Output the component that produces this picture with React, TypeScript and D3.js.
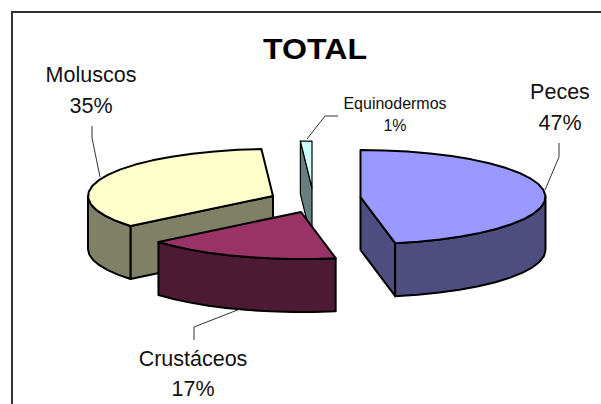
import * as d3 from "d3";

const WIDTH = 601;
const HEIGHT = 404;

const categories = ["Peces", "Crustáceos", "Moluscos", "Equinodermos"];
const values = [47, 17, 35, 1];
const topColors = ["#9999ff", "#993366", "#ffffcc", "#ccffff"];
const sideColors = ["#4d4d80", "#4d1a33", "#808066", "#668080"];

// draw order, back slices first
const drawOrder = [2, 3, 1, 0];

// centre of each exploded slice
const centers: [number, number][] = [
    [360.5, 197],
    [301, 212],
    [273, 196],
    [312, 188],
];
const RX = 185;
const RY = 47;
const DEPTH = 53;
const ARC_STEP = 0.13; // the original outlines are coarse polygons

const labelPos = [
    { x: 560, y: 99, y2: 130, size: 21.5 },
    { x: 193, y: 366, y2: 396, size: 21.5 },
    { x: 91, y: 82, y2: 113, size: 21.5 },
    { x: 395, y: 109, y2: 131, size: 16 },
];
const leaders: [number, number][][] = [
    [[559, 143], [559, 157], [545, 190]],
    [[194, 340], [194, 327], [240, 309]],
    [[92, 126], [92, 138], [100, 177]],
    [[338, 116], [325, 116], [307, 139]],
];

const FONT = "'Liberation Sans', Arial, sans-serif";

export default function App() {
    const arcs = d3.pie<number>().sort(null)(values);
    const line = d3.line();

    const point = (i: number, a: number, dy = 0): [number, number] => [
        centers[i][0] + RX * Math.sin(a),
        centers[i][1] - RY * Math.cos(a) + dy,
    ];

    const arcPoints = (i: number, a0: number, a1: number, dy = 0) => {
        const n = Math.max(1, Math.ceil((a1 - a0) / ARC_STEP));
        return d3.range(n + 1).map((k) => point(i, a0 + ((a1 - a0) * k) / n, dy));
    };

    const slices = drawOrder.map((i) => {
        const { startAngle: a0, endAngle: a1 } = arcs[i];
        const center = centers[i];
        const bottom: [number, number] = [center[0], center[1] + DEPTH];

        // outer wall, front half only
        const w0 = Math.max(a0, Math.PI / 2);
        const w1 = Math.min(a1, (3 * Math.PI) / 2);
        const wall =
            w1 > w0
                ? [...arcPoints(i, w0, w1), ...arcPoints(i, w0, w1, DEPTH).reverse()]
                : null;

        // cut faces that turn toward the viewer
        const faces: [number, number][][] = [];
        if (Math.sin(a0) < -1e-6) faces.push([center, point(i, a0), point(i, a0, DEPTH), bottom]);
        if (Math.sin(a1) > 1e-6) faces.push([center, point(i, a1), point(i, a1, DEPTH), bottom]);

        const top = [center, ...arcPoints(i, a0, a1)];
        const sw = i === 3 ? 1.2 : 2;

        return (
            <g key={categories[i]} stroke="#000" strokeWidth={sw} strokeLinejoin="round">
                {faces.map((f, k) => (
                    <path key={k} d={line(f) + "Z"} fill={sideColors[i]} />
                ))}
                {wall && <path d={line(wall) + "Z"} fill={sideColors[i]} />}
                <path d={line(top) + "Z"} fill={topColors[i]} />
            </g>
        );
    });

    return (
        <svg
            width={WIDTH}
            height={HEIGHT}
            style={{ position: "absolute", left: 0, top: 0, background: "#fff" }}
            fontFamily={FONT}
        >
            <path d="M12 404V12H601" fill="none" stroke="#333" strokeWidth={2} />
            <text
                x={315}
                y={59}
                textAnchor="middle"
                fontSize={30}
                fontWeight="bold"
                fill="#000"
                textLength={104}
                lengthAdjust="spacingAndGlyphs"
            >
                TOTAL
            </text>
            {slices}
            {leaders.map((l, i) => (
                <path key={i} d={line(l) ?? ""} fill="none" stroke="#333" strokeWidth={1} />
            ))}
            {categories.map((c, i) => (
                <g key={c} textAnchor="middle" fontSize={labelPos[i].size} fill="#111">
                    <text x={labelPos[i].x} y={labelPos[i].y}>{c}</text>
                    <text x={labelPos[i].x} y={labelPos[i].y2}>{values[i]}%</text>
                </g>
            ))}
        </svg>
    );
}
